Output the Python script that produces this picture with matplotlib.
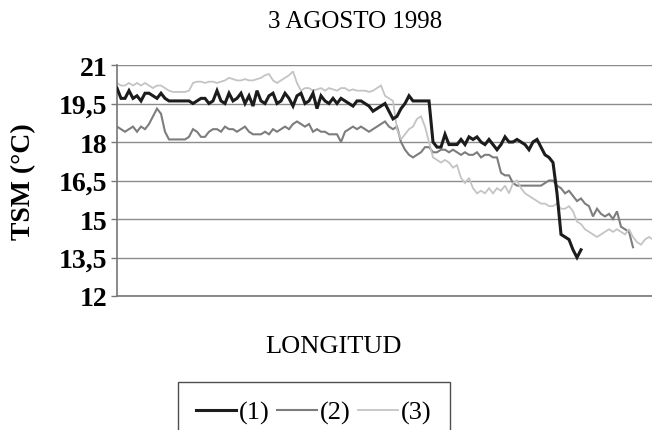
import numpy as np
import matplotlib
matplotlib.use("Agg")
import matplotlib.pyplot as plt

# TSM a lo largo del transecto, 3 agosto 1998
serie1 = [20.1, 19.7, 19.7, 20.0, 19.7, 19.8, 19.6, 19.9, 19.9, 19.8, 19.7,
          19.9, 19.7, 19.6, 19.6, 19.6, 19.6, 19.6, 19.6, 19.5, 19.6, 19.7,
          19.7, 19.5, 19.6, 20.0, 19.6, 19.5, 19.9, 19.6, 19.7,
          19.9, 19.5, 19.8, 19.4, 20.0, 19.6, 19.5, 19.8, 19.9, 19.5, 19.6,
          19.9, 19.7, 19.4, 19.8, 19.9, 19.5, 19.6, 19.9, 19.3, 19.8, 19.6,
          19.5, 19.7, 19.5, 19.7, 19.6, 19.5, 19.4, 19.6,
          19.6, 19.5, 19.4, 19.2, 19.3, 19.4, 19.5, 19.2, 18.9, 19.0, 19.3,
          19.5, 19.8, 19.6, 19.6, 19.6, 19.6, 19.6,
          18.0, 17.8, 17.8, 18.3, 17.9, 17.9, 17.9, 18.1, 17.9, 18.2, 18.1,
          18.2, 18.0, 17.9, 18.1, 17.9, 17.7, 17.9, 18.2, 18.0, 18.0, 18.1,
          18.0, 17.9, 17.7, 18.0, 18.1, 17.8, 17.5, 17.4, 17.2, 16.0, 14.4,
          14.3, 14.2, 13.8, 13.5, 13.8]

serie2 = [18.6, 18.5, 18.4, 18.5, 18.6, 18.4, 18.6, 18.5, 18.7, 19.0, 19.3,
          19.1, 18.4, 18.1, 18.1, 18.1, 18.1, 18.1, 18.2, 18.5, 18.4, 18.2,
          18.2, 18.4, 18.5, 18.5, 18.4, 18.6, 18.5, 18.5, 18.4, 18.5, 18.6,
          18.4, 18.3, 18.3, 18.3, 18.4, 18.3, 18.5, 18.4, 18.5, 18.6, 18.5,
          18.7, 18.8, 18.7, 18.6, 18.7, 18.4, 18.5, 18.4, 18.4, 18.3, 18.3,
          18.3, 18.0, 18.4, 18.5, 18.6, 18.5, 18.6,
          18.5, 18.4, 18.5, 18.6, 18.7, 18.8, 18.6, 18.5, 18.6, 18.0, 17.7,
          17.5, 17.4, 17.5, 17.6, 17.8, 17.8, 17.6, 17.6, 17.7, 17.7, 17.6,
          17.7, 17.6, 17.5, 17.6, 17.5, 17.5, 17.6, 17.4, 17.5, 17.5, 17.4,
          17.4, 16.8, 16.7, 16.7, 16.4, 16.3, 16.3, 16.3, 16.3, 16.3, 16.3,
          16.3, 16.4, 16.5, 16.5, 16.3, 16.2, 16.0, 16.1, 15.9, 15.7, 15.8,
          15.6, 15.5, 15.1, 15.4, 15.2, 15.1, 15.2, 15.0, 15.3, 14.7, 14.6,
          14.5, 13.9]

serie3 = [20.3, 20.2, 20.2, 20.3, 20.2, 20.3, 20.2, 20.3, 20.2, 20.1, 20.2,
          20.2, 20.1, 20.0, 19.95, 19.95, 19.95, 19.95, 20.0, 20.3, 20.35,
          20.35, 20.3, 20.35, 20.35, 20.3, 20.35, 20.4, 20.5, 20.45, 20.4,
          20.4, 20.45, 20.4, 20.4, 20.45, 20.5, 20.6, 20.65, 20.4, 20.3, 20.4,
          20.5, 20.6, 20.75, 20.3, 20.0, 20.1, 20.1, 20.0, 20.05, 20.1, 20.0,
          20.1, 20.05, 20.0, 20.1, 20.1, 20.0, 20.05, 20.0, 20.0, 20.0, 19.95,
          20.0, 20.1, 20.2, 19.8, 19.7, 19.6, 18.5, 18.1, 18.3, 18.5, 18.6,
          18.9, 19.0, 18.6, 18.0, 17.4, 17.3, 17.2, 17.3, 17.2, 17.0, 17.1,
          16.6, 16.4, 16.6, 16.2, 16.0, 16.1, 16.0, 16.2, 16.0, 16.2, 16.1,
          16.3, 16.0, 16.4, 16.5, 16.2, 16.0, 15.9, 15.8, 15.7, 15.6, 15.6,
          15.5, 15.5, 15.6, 15.4, 15.4, 15.5, 15.3, 14.9, 14.8, 14.6, 14.5,
          14.4, 14.3, 14.4, 14.5, 14.6, 14.5, 14.6, 14.5, 14.4, 14.6, 14.3,
          14.1, 14.0, 14.2, 14.3, 14.2]

etiquetas = ["(1)", "(2)", "(3)"]
colores = ["#1c1c1c", "#7d7d7d", "#c4c4c4"]
anchos = [2.2, 1.5, 1.3]
yticks = [12, 13.5, 15, 16.5, 18, 19.5, 21]
ytick_labels = ["12", "13,5", "15", "16,5", "18", "19,5", "21"]

serif = ["Liberation Serif", "DejaVu Serif"]

fig = plt.figure(figsize=(6.52, 4.31), dpi=100)
ax = fig.add_axes([117 / 652, 1 - 297 / 431, 540 / 652, 231 / 431])

for serie, lab, col, lw in zip([serie1, serie2, serie3], etiquetas, colores, anchos):
    ax.plot(np.arange(len(serie)), serie, color=col, lw=lw, label=lab,
            solid_joinstyle="miter", zorder=3 if col == "#1c1c1c" else 2)

ax.set_xlim(0, 135)
ax.set_ylim(12, 21)
ax.set_yticks(yticks)
ax.set_yticklabels(ytick_labels, family=serif, fontweight="bold", fontsize=20)
ax.set_xticks([])
ax.yaxis.grid(True, color="#8c8c8c", lw=1)
ax.set_axisbelow(True)
ax.tick_params(axis="y", length=4, width=1, color="#777777", pad=3)
for side in ["top", "right"]:
    ax.spines[side].set_visible(False)
for side in ["left", "bottom"]:
    ax.spines[side].set_color("#777777")
    ax.spines[side].set_linewidth(1.2)

ax.set_ylabel("TSM (°C)", family=serif, fontweight="bold", fontsize=20)
ax.yaxis.set_label_coords(-0.149, 0.5)
fig.text(355 / 652, 1 - 22 / 431, "3 AGOSTO 1998", family=serif, fontsize=18,
         ha="center", va="center")
fig.text(333 / 652, 1 - 347 / 431, "LONGITUD", family=serif, fontsize=19,
         ha="center", va="center")

leg = fig.legend(loc="upper left", bbox_to_anchor=(178 / 652, 1 - 383 / 431),
                 ncol=3, prop={"family": serif, "size": 19}, frameon=True,
                 fancybox=False, edgecolor="#222222", borderpad=0.7,
                 borderaxespad=0, handlelength=1.5, handletextpad=0.1,
                 columnspacing=0.3)
leg.get_frame().set_linewidth(1.0)

fig.savefig("out.png", dpi=100)
